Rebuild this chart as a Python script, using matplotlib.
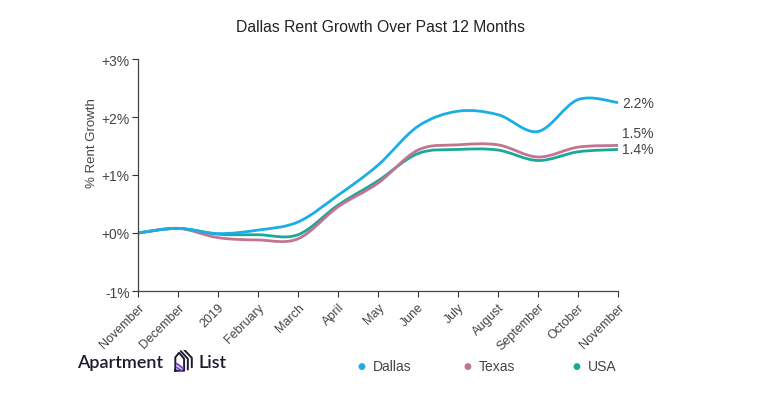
import numpy as np
import matplotlib
matplotlib.use("Agg")
import matplotlib.pyplot as plt
from matplotlib.path import Path
from matplotlib.patches import PathPatch

plt.rcParams['font.family'] = ['Liberation Sans', 'DejaVu Sans']

# data (% rent growth since Nov 2018)
months = ["November", "December", "2019", "February", "March", "April", "May",
          "June", "July", "August", "September", "October", "November"]
dallas = [0.0, 0.08, -0.01, 0.05, 0.19, 0.65, 1.17, 1.84, 2.10, 2.04, 1.75, 2.30, 2.25]
texas = [0.0, 0.08, -0.08, -0.12, -0.10, 0.45, 0.86, 1.43, 1.52, 1.52, 1.31, 1.48, 1.51]
usa = [0.0, 0.08, -0.02, -0.03, -0.03, 0.48, 0.90, 1.37, 1.44, 1.43, 1.25, 1.40, 1.44]
end_labels = ["2.2%", "1.5%", "1.4%"]

c_dallas = "#1aaee5"
c_texas = "#c27491"
c_usa = "#1ba898"
txt = "#444444"


def smooth_path(xs, ys):
    # catmull-rom through the points, drawn as cubic bezier segments
    pts = np.column_stack([xs, ys]).astype(float)
    padded = np.vstack([pts[0], pts, pts[-1]])
    verts = [pts[0]]
    codes = [Path.MOVETO]
    for i in range(1, len(padded) - 2):
        p0, p1, p2, p3 = padded[i - 1], padded[i], padded[i + 1], padded[i + 2]
        verts += [p1 + (p2 - p0) / 6, p2 - (p3 - p1) / 6, p2]
        codes += [Path.CURVE4] * 3
    return Path(verts, codes)


fig = plt.figure(figsize=(7.6, 4.02), dpi=100)
ax = fig.add_axes([138 / 760, 1 - 292 / 402, 480 / 760, 232 / 402])

x = np.arange(len(months))
for ys, col in [(usa, c_usa), (texas, c_texas), (dallas, c_dallas)]:
    ax.add_patch(PathPatch(smooth_path(x, ys), facecolor="none", edgecolor=col,
                           lw=2.0, capstyle="round", joinstyle="round"))

ax.set_xlim(0, len(months) - 1)
ax.set_ylim(-1, 3)
ax.set_yticks([-1, 0, 1, 2, 3])
ax.set_yticklabels(["-1%", "+0%", "+1%", "+2%", "+3%"])
ax.set_xticks(x)
ax.set_xticklabels(months, rotation=45, ha="right", va="top", rotation_mode="anchor")
ax.tick_params(axis="both", colors="#333333", labelcolor=txt,
               length=4, width=0.8, direction="out")
ax.tick_params(axis="y", labelsize=10, pad=2)
ax.tick_params(axis="x", labelsize=9, pad=3)
for s in ["top", "right"]:
    ax.spines[s].set_visible(False)
for s in ["left", "bottom"]:
    ax.spines[s].set_color("#444444")
    ax.spines[s].set_linewidth(0.9)
ax.set_ylabel("% Rent Growth", fontsize=9.5, color=txt)
ax.yaxis.set_label_coords(-0.083, 0.64)

# end labels
xe = len(months) - 1 + 0.1
ax.text(xe, dallas[-1], end_labels[0], fontsize=10, color=txt,
        va="center", ha="left", clip_on=False)
ax.text(xe, texas[-1] + 0.22, end_labels[1], fontsize=10, color=txt,
        va="center", ha="left", clip_on=False)
ax.text(xe, usa[-1], end_labels[2], fontsize=10, color=txt,
        va="center", ha="left", clip_on=False)

fig.text(0.5, 1 - 28 / 402, "Dallas Rent Growth Over Past 12 Months",
         fontsize=11.3, color="#222222", ha="center", va="center")

# legend
for px, name, col in [(361, "Dallas", c_dallas), (467, "Texas", c_texas), (576, "USA", c_usa)]:
    fig.text(px / 760, 1 - 367 / 402, "\u25cf", color=col, fontsize=6.5,
             ha="center", va="center", family="DejaVu Sans")
    fig.text((px + 12) / 760, 1 - 367 / 402, name, color=txt, fontsize=10,
             ha="left", va="center")

# logo
fig.text(77 / 760, 1 - 363 / 402, "Apartment", fontsize=13, color="#1f1a2e",
         ha="left", va="center", family="Lato", weight="semibold")
fig.text(199 / 760, 1 - 363 / 402, "List", fontsize=13, color="#1f1a2e",
         ha="left", va="center", family="Lato", weight="semibold")
lax = fig.add_axes([172 / 760, 1 - 374 / 402, 22 / 760, 23 / 402])
lax.set_xlim(0, 1)
lax.set_ylim(0, 1)
lax.axis("off")
dark = "#1f1a2e"
lax.plot([0.15, 0.15, 0.32, 0.55, 0.55, 0.15], [0.1, 0.68, 0.88, 0.62, 0.1, 0.1],
         color=dark, lw=1.4, solid_joinstyle="round")
lax.plot([0.4, 0.72, 0.72], [0.95, 0.62, 0.15], color=dark, lw=1.4,
         solid_capstyle="round", solid_joinstyle="round")
lax.plot([0.56, 0.9, 0.9], [1.0, 0.66, 0.25], color=dark, lw=1.4,
         solid_capstyle="round", solid_joinstyle="round")
lax.plot([0.22, 0.48], [0.4, 0.22], color="#7a4bd6", lw=1.5)
lax.plot([0.22, 0.42], [0.24, 0.12], color="#7a4bd6", lw=1.3)

fig.savefig("out.png", dpi=100, facecolor="white")
